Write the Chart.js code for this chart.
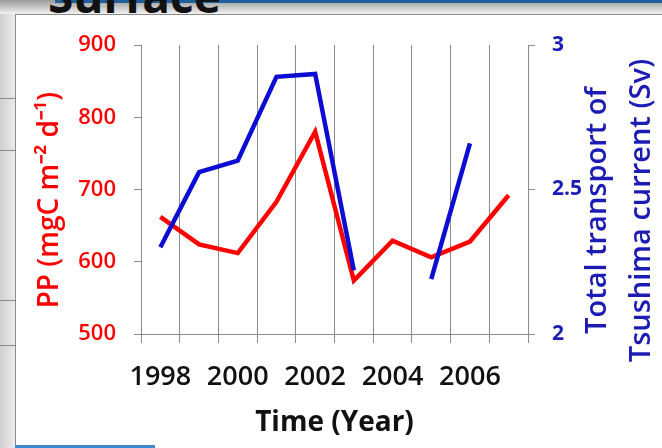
<!DOCTYPE html>
<html>
<head>
    <title>PP and Tsushima current transport</title>
    <script src="https://cdn.jsdelivr.net/npm/chart.js"></script>
    <style>
        html, body {
            margin: 0;
            padding: 0;
            width: 662px;
            height: 448px;
            overflow: hidden;
            font-family: "Open Sans", sans-serif;
        }
        .slide {
            position: absolute;
            left: 0; top: 0;
            width: 662px; height: 448px;
            background: linear-gradient(to right, #bdbdbd, #e6e6e6 70%, #d0d0d0);
        }
        .top-band {
            position: absolute;
            left: 0; top: 0;
            width: 662px; height: 14px;
            overflow: hidden;
            background: linear-gradient(to bottom, #9a9a9a, #f2f2f2);
        }
        .top-band .bar {
            position: absolute;
            left: 55px; top: 0;
            width: 607px; height: 3px;
            background: #1f5f9a;
        }
        .top-band .slide-title {
            position: absolute;
            left: 48px; top: -36px;
            font-size: 46px;
            font-weight: 700;
            color: #111;
        }
        .left-strip {
            position: absolute;
            left: 0; top: 14px;
            width: 15px; height: 434px;
            background: linear-gradient(to right, #cfcfcf, #ececec);
        }
        .left-strip div {
            position: absolute;
            left: 0; width: 15px; height: 1px;
            background: #8a8a8a;
        }
        .chart-box {
            position: absolute;
            left: 15px; top: 14px;
            width: 647px; height: 434px;
            background: #ffffff;
            border-left: 1px solid #8a8a8a;
            border-top: 1px solid #8a8a8a;
            box-sizing: border-box;
        }
        .bottom-line {
            position: absolute;
            left: 15px; top: 445px;
            width: 140px; height: 3px;
            background: #3a8ad0;
        }
        #myChart {
            position: absolute;
            left: 0; top: 0;
        }
    </style>
</head>
<body>
    <div class="slide">
        <div class="top-band">
            <div class="bar"></div>
            <div class="slide-title">Surface</div>
        </div>
        <div class="left-strip">
            <div style="top: 84px;"></div>
            <div style="top: 136px;"></div>
            <div style="top: 286px;"></div>
            <div style="top: 331px;"></div>
        </div>
        <div class="chart-box"></div>
        <div class="bottom-line"></div>
    </div>
    <canvas id="myChart" width="662" height="448"></canvas>

    <script>
        // 資料
        const years = ['1998', '1999', '2000', '2001', '2002', '2003', '2004', '2005', '2006', '2007'];
        const shownYears = ['1998', '2000', '2002', '2004', '2006'];
        const ppValues = [662, 624, 612, 683, 780, 574, 629, 606, 628, 692];
        const transportValues = [2.30, 2.56, 2.60, 2.89, 2.90, 2.22, null, 2.19, 2.66, null];
        const ppTicks = [500, 600, 700, 800, 900];
        const transportTicks = [2, 2.5, 3];

        const red = '#ff0000';
        const blueLine = '#0c0cd2';
        const blueText = '#1c1cb4';
        const axisGray = '#8c8c8c';

        Chart.defaults.font.family = '"Open Sans", sans-serif';

        // 右側軸標題（由下往上讀）
        const rightTitle = {
            id: 'rightTitle',
            afterDraw(chart) {
                const s = chart.scales.y1;
                const ctx = chart.ctx;
                const cy = (chart.chartArea.top + chart.chartArea.bottom) / 2 + 21;
                ctx.save();
                ctx.fillStyle = blueText;
                ctx.font = '600 29px "Open Sans", sans-serif';
                ctx.textAlign = 'center';
                ctx.textBaseline = 'middle';
                ctx.translate(s.left, cy);
                ctx.rotate(-Math.PI / 2);
                ctx.fillText('Total transport of', 0, 70);
                ctx.fillText('Tsushima current (Sv)', 0, 114);
                ctx.restore();
            }
        };

        const ctx = document.getElementById('myChart').getContext('2d');
        new Chart(ctx, {
            type: 'line',
            data: {
                labels: years,
                datasets: [
                    {
                        label: 'PP',
                        data: ppValues,
                        yAxisID: 'y',
                        borderColor: red,
                        borderWidth: 4.5,
                        pointRadius: 0,
                        tension: 0,
                        order: 1
                    },
                    {
                        label: 'Transport',
                        data: transportValues,
                        yAxisID: 'y1',
                        borderColor: blueLine,
                        borderWidth: 4.5,
                        pointRadius: 0,
                        tension: 0,
                        spanGaps: false,
                        order: 0
                    }
                ]
            },
            options: {
                responsive: false,
                animation: false,
                layout: { padding: { top: 45, left: 0, right: 0, bottom: 0 } },
                plugins: {
                    legend: { display: false },
                    tooltip: { enabled: false }
                },
                scales: {
                    x: {
                        offset: true,
                        afterFit: s => { s.height = 114; },
                        grid: {
                            offset: true,
                            color: axisGray,
                            lineWidth: 1,
                            tickLength: 9
                        },
                        border: { color: axisGray },
                        ticks: {
                            autoSkip: false,
                            maxRotation: 0,
                            padding: 18,
                            color: '#111111',
                            font: { size: 27, weight: '600' },
                            callback: function (value) {
                                const label = this.getLabelForValue(value);
                                return shownYears.includes(label) ? label : '';
                            }
                        },
                        title: {
                            display: true,
                            text: 'Time (Year)',
                            color: '#111111',
                            font: { size: 28, weight: '700' },
                            padding: { top: 0, bottom: 8 }
                        }
                    },
                    y: {
                        position: 'left',
                        min: 500,
                        max: 900,
                        afterFit: s => { s.width = 141; },
                        afterBuildTicks: s => { s.ticks = ppTicks.map(v => ({ value: v })); },
                        grid: { drawOnChartArea: false, color: axisGray, tickLength: 7 },
                        border: { color: axisGray },
                        ticks: {
                            padding: 18,
                            color: red,
                            font: { size: 22, weight: '600' }
                        },
                        title: {
                            display: true,
                            // 尾端空白讓標題往下移一點
                            text: 'PP (mgC m\u207B\u00B2 d\u207B\u00B9)\u2002 ',
                            color: red,
                            font: { size: 28, weight: '600' },
                            padding: { top: 33, bottom: 0 }
                        }
                    },
                    y1: {
                        position: 'right',
                        min: 2,
                        max: 3,
                        afterFit: s => { s.width = 134; },
                        afterBuildTicks: s => { s.ticks = transportTicks.map(v => ({ value: v })); },
                        grid: { drawOnChartArea: false, color: axisGray, tickLength: 7 },
                        border: { color: axisGray },
                        ticks: {
                            padding: 17,
                            color: blueText,
                            font: { size: 21, weight: '700' },
                            callback: value => String(value)
                        }
                    }
                }
            },
            plugins: [rightTitle]
        });
    </script>
</body>
</html>
